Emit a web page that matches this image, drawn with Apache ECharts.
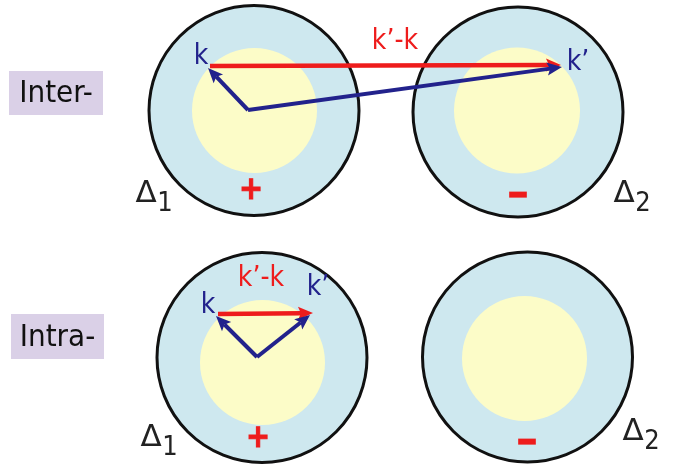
<!DOCTYPE html>
<html>
<head>
<meta charset="utf-8">
<script src="https://cdn.jsdelivr.net/npm/echarts@6/dist/echarts.min.js"></script>
<style>html,body{margin:0;padding:0;background:#fff}#c{width:674px;height:465px}</style>
</head>
<body>
<div id="c"></div>
<script>
// ---- data (diagram coordinates) ----
const panelNames = ['Inter-', 'Intra-'];
const panelBoxes = [[9, 71, 103, 115], [11, 314, 104, 359]];          // x0,y0,x1,y1
const outerCircles = [[254, 110.5, 105], [518, 112, 105], [262, 357.5, 105], [527.5, 357, 105]]; // cx,cy,r
const innerCircles = [[254.5, 110.5, 62.5], [517, 110.5, 63], [262.5, 362.5, 62.5], [524.5, 358.5, 62.5]];
const redArrows = [[210, 66, 561, 65], [218, 314, 313, 313]];          // from x,y -> to x,y
const blueArrows = [[248, 110, 208, 68], [248, 110, 562, 67], [257, 357, 216, 316], [257, 357, 310, 315]];
const blueLabels = ['k', 'k\u2019', 'k', 'k\u2019'];
const blueLabelPos = [[201, 57], [578, 63], [208, 306], [318, 288]];
const redLabels = ['k\u2019-k', 'k\u2019-k'];
const redLabelPos = [[395, 42], [261, 279]];
const plusSigns = ['+', '+'];
const plusPos = [[251, 191], [258, 439]];
const minusSigns = ['\u2212', '\u2212'];
const minusPos = [[518, 196], [527, 443]];
const deltaSymbols = ['\u0394', '\u0394', '\u0394', '\u0394'];
const deltaSubs = ['1', '2', '1', '2'];
const deltaPos = [[146, 194], [624, 194], [151, 438], [633, 432]];

// ---- styles ----
const FONT = '"DejaVu Sans Condensed", "DejaVu Sans", sans-serif';
const C = {
  box: '#dad0e7', outerFill: '#cee8ef', outerStroke: '#111111',
  inner: '#fcfcc8', red: '#ee1c1c', blue: '#22228c', text: '#222222'
};

function circleSeries(data, fill, stroke, lw) {
  return {
    type: 'custom', data: data, silent: true,
    encode: { x: 0, y: 1 },
    renderItem: function (params, api) {
      const c = api.coord([api.value(0), api.value(1)]);
      const r = api.size([api.value(2), 0])[0];
      return { type: 'circle', shape: { cx: c[0], cy: c[1], r: r },
        style: { fill: fill, stroke: stroke || null, lineWidth: lw || 0 } };
    }
  };
}

function arrowSeries(data, color, lw, headLen, headW) {
  return {
    type: 'custom', data: data, silent: true,
    encode: { x: [0, 2], y: [1, 3] },
    renderItem: function (params, api) {
      const p0 = api.coord([api.value(0), api.value(1)]);
      const p1 = api.coord([api.value(2), api.value(3)]);
      const dx = p1[0] - p0[0], dy = p1[1] - p0[1];
      const L = Math.sqrt(dx * dx + dy * dy);
      const ux = dx / L, uy = dy / L, nx = -uy, ny = ux;
      const bx = p1[0] - ux * headLen, by = p1[1] - uy * headLen;
      const mx = p1[0] - ux * headLen * 0.8, my = p1[1] - uy * headLen * 0.8;
      return { type: 'group', children: [
        { type: 'line', shape: { x1: p0[0], y1: p0[1], x2: mx, y2: my },
          style: { stroke: color, lineWidth: lw, lineCap: 'butt' } },
        { type: 'polygon', shape: { points: [
            [p1[0], p1[1]],
            [bx + nx * headW / 2, by + ny * headW / 2],
            [mx, my],
            [bx - nx * headW / 2, by - ny * headW / 2]] },
          style: { fill: color } }
      ] };
    }
  };
}

function textSeries(pos, texts, color, size, weight, extra) {
  return {
    type: 'custom', data: pos, silent: true,
    encode: { x: 0, y: 1 },
    renderItem: function (params, api) {
      const c = api.coord([api.value(0), api.value(1)]);
      return { type: 'text', x: c[0], y: c[1],
        style: Object.assign({ text: texts[params.dataIndex], fill: color,
          fontSize: size, fontFamily: FONT, fontWeight: weight || 'normal',
          align: 'center', verticalAlign: 'middle' }, extra || {}) };
    }
  };
}

const deltaSeries = {
  type: 'custom', data: deltaPos, silent: true,
  encode: { x: 0, y: 1 },
  renderItem: function (params, api) {
    const c = api.coord([api.value(0), api.value(1)]);
    return { type: 'group', children: [
      { type: 'text', x: c[0], y: c[1], style: { text: deltaSymbols[params.dataIndex], fill: C.text,
        fontSize: 31, fontFamily: '"DejaVu Sans", sans-serif', align: 'center', verticalAlign: 'middle' } },
      { type: 'text', x: c[0] + 19, y: c[1] + 10, style: { text: deltaSubs[params.dataIndex], fill: C.text,
        fontSize: 27, fontFamily: FONT, align: 'center', verticalAlign: 'middle' } }
    ] };
  }
};

const boxSeries = {
  type: 'custom', data: panelBoxes, silent: true,
  encode: { x: [0, 2], y: [1, 3] },
  renderItem: function (params, api) {
    const a = api.coord([api.value(0), api.value(1)]);
    const b = api.coord([api.value(2), api.value(3)]);
    return { type: 'group', children: [
      { type: 'rect', shape: { x: a[0], y: a[1], width: b[0] - a[0], height: b[1] - a[1] },
        style: { fill: C.box } },
      { type: 'text', x: (a[0] + b[0]) / 2, y: (a[1] + b[1]) / 2 + 1,
        style: { text: panelNames[params.dataIndex], fill: '#111', fontSize: 31, fontFamily: FONT,
          align: 'center', verticalAlign: 'middle' } }
    ] };
  }
};

const chart = echarts.init(document.getElementById('c'), null, { renderer: 'canvas' });
chart.setOption({
  backgroundColor: '#ffffff',
  animation: false,
  grid: { left: 0, right: 0, top: 0, bottom: 0 },
  xAxis: { type: 'value', min: 0, max: 674, show: false },
  yAxis: { type: 'value', min: 0, max: 465, inverse: true, show: false },
  series: [
    boxSeries,
    circleSeries(outerCircles, C.outerFill, C.outerStroke, 3),
    circleSeries(innerCircles, C.inner),
    arrowSeries(redArrows, C.red, 4.5, 15, 13),
    arrowSeries(blueArrows, C.blue, 4, 15, 13),
    textSeries(blueLabelPos, blueLabels, C.blue, 28),
    textSeries(redLabelPos, redLabels, C.red, 28),
    textSeries(plusPos, plusSigns, C.red, 32, 'bold', { stroke: C.red, lineWidth: 1 }),
    textSeries(minusPos, minusSigns, C.red, 26, 'bold', { stroke: C.red, lineWidth: 3 }),
    deltaSeries
  ]
});
</script>
</body>
</html>
